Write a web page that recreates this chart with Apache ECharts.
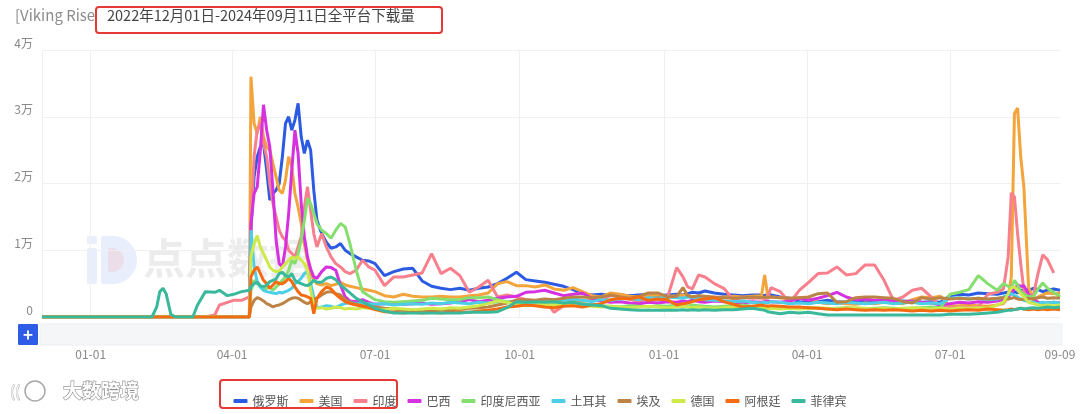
<!DOCTYPE html>
<html>
<head>
<meta charset="utf-8">
<script src="https://cdn.jsdelivr.net/npm/echarts@6/dist/echarts.min.js"></script>
<style>
html,body{margin:0;padding:0;background:#fff;}
#chart{width:1080px;height:414px;}
</style>
</head>
<body>
<div id="chart"></div>
<script>
// ---- data ----
const dates = [
'2022-12-01','2023-02-09','2023-02-12','2023-02-14','2023-02-16','2023-02-18','2023-02-21','2023-02-24','2023-03-07','2023-03-10',
'2023-03-15','2023-03-21','2023-03-24','2023-03-29','2023-04-02','2023-04-07','2023-04-12',
'2023-04-13','2023-04-15','2023-04-17','2023-04-19','2023-04-21','2023-04-23','2023-04-25','2023-04-27','2023-04-29','2023-05-01',
'2023-05-03','2023-05-05','2023-05-07','2023-05-09','2023-05-11','2023-05-13','2023-05-15','2023-05-17','2023-05-19','2023-05-21',
'2023-05-23','2023-05-25','2023-05-28','2023-05-31','2023-06-03','2023-06-06','2023-06-09','2023-06-12','2023-06-15','2023-06-19',
'2023-06-23','2023-06-27',
'2023-07-01','2023-07-07','2023-07-13','2023-07-19','2023-07-25','2023-07-31','2023-08-06','2023-08-12','2023-08-18','2023-08-24',
'2023-08-30','2023-09-05','2023-09-11','2023-09-17','2023-09-23','2023-09-29','2023-10-05','2023-10-11','2023-10-17','2023-10-23',
'2023-10-29','2023-11-04','2023-11-10','2023-11-16','2023-11-22','2023-11-28','2023-12-04','2023-12-10','2023-12-16','2023-12-22',
'2023-12-28','2024-01-03','2024-01-09','2024-01-13','2024-01-16','2024-01-19','2024-01-23','2024-01-27','2024-02-02','2024-02-08',
'2024-02-14','2024-02-20','2024-02-26','2024-03-03','2024-03-05','2024-03-07','2024-03-09','2024-03-15','2024-03-21','2024-03-27',
'2024-04-02','2024-04-08','2024-04-14','2024-04-20','2024-04-26','2024-05-02','2024-05-08','2024-05-14','2024-05-20','2024-05-26',
'2024-06-01','2024-06-07','2024-06-13','2024-06-19','2024-06-25','2024-07-01','2024-07-07','2024-07-13','2024-07-19','2024-07-25',
'2024-07-31','2024-08-04','2024-08-07','2024-08-09','2024-08-11','2024-08-13','2024-08-15','2024-08-17','2024-08-20','2024-08-23',
'2024-08-26','2024-08-29','2024-09-01','2024-09-05','2024-09-09'
];

const russia = [
0,0,0,0,0,0,0,0,0,0, 0,0,0,0,0,0,0,
13000,21000,24000,25500,26000,22000,17500,18500,19000,20000,24000,29000,30000,28000,29500,32000,27000,24500,26500,25000,
19000,14500,12500,11200,10300,10500,11000,10000,9500,9000,8500,8400,
8000,6200,6800,7200,7300,5400,4600,4300,4100,4300,
4000,4300,4500,5000,5800,6700,5600,5400,5200,4900,
4600,4100,3500,3300,3400,3200,3300,3200,3300,3400,
3200,3300,3400,3300,3500,3700,3600,3900,3600,3400,
3300,3200,3300,3300,3200,3400,3300,3000,2800,2300,
2200,2300,2500,2300,2200,2400,2300,2200,2300,2200,
2400,2300,2200,2300,2200,3200,3400,3300,3600,3500,
3400,3600,3700,3500,3800,3600,3900,4200,4000,4300,
4100,3800,4000,4200,4000
];
const usa = [
0,0,0,0,0,0,0,0,0,0, 0,0,0,0,0,0,0,
36000,29000,27500,30000,27000,25500,25000,23000,21000,19000,18500,20500,24000,22500,18500,16500,14000,11000,8500,6500,
5500,5000,4800,5000,4700,4900,5200,4800,4600,4400,4200,4000,
3800,3200,3000,3400,3100,3000,3000,3100,3000,3000,
3200,3300,3600,5000,5300,4700,4700,4500,4800,4200,
4000,4400,3800,3200,3000,3600,3400,3100,3000,3200,
3300,3100,3200,3300,3200,3000,3100,3000,2900,3000,
3100,3000,3100,3200,6300,3100,3000,2900,2800,2900,
2800,2200,2000,2100,2000,1900,2100,2000,2200,2100,
2000,2600,3000,2900,3100,1600,1700,1800,1700,1600,
1800,2000,3000,6000,30500,31300,24000,19500,4500,2500,
3000,3300,3600,3500,3600
];
const india = [
0,0,0,0,0,0,0,0,0,0, 0,300,1800,2200,2500,2500,3000,
14000,24000,28000,29000,26000,24000,20000,17000,15000,13000,12000,11500,10000,9500,9000,10500,12000,16500,19500,16000,
12500,10500,12500,10500,9000,8000,7500,6800,6500,7000,8500,7500,
7000,4700,6000,6000,6300,6600,9500,6500,7300,6200,
3700,4500,5500,3000,3300,3000,2600,2400,2600,700,
1700,2500,2300,2600,2400,3300,3000,2700,2300,2800,
2600,2800,7400,6000,4500,4200,6300,6000,5000,4300,
2600,2900,2800,2900,2700,3000,4400,3800,2100,4000,
5200,6500,6600,7500,6300,6500,7800,7800,5500,2500,
3000,4000,4300,3000,1500,1400,1500,1400,1500,3400,
3700,4200,9000,18600,18000,12500,8000,4000,3000,3200,
6500,9300,8600,6600
];
const brazil = [
0,0,0,0,0,0,0,0,0,0, 0,0,0,0,0,0,0,
14000,18500,19500,25000,31800,28000,25500,19000,11500,8000,7500,10500,15500,22000,28000,24500,17000,12000,9000,7200,
6000,5800,6800,7500,7400,7000,4800,3000,2400,2300,2600,2200,
1900,2000,2100,1900,2000,2100,1900,2000,2100,2300,
2600,2300,2500,2800,3000,3100,3700,3800,4000,3600,
3200,3400,3600,2800,2400,2200,2300,2100,2000,2200,
2100,2300,2200,2400,2300,2500,2300,2200,2400,2300,
2200,2100,2300,2200,2300,2400,2300,2200,2400,2800,
2500,2800,3200,3700,3000,2600,2700,2500,2600,2400,
2300,2400,2200,2100,1800,2000,2200,2100,2300,2200,
2400,2600,3000,3600,4200,4800,4600,4700,3400,2800,
2200,2000,2100,2200,2100
];
const indonesia = [
0,0,0,0,0,0,0,0,0,0, 0,0,0,0,0,0,0,
4000,5500,5000,4500,4000,4300,4500,4000,4500,5000,5500,6000,7000,8500,8000,9500,11500,14500,17800,17000,
15500,14000,13000,12500,11800,13000,14000,13500,11000,7000,3800,3200,
2600,2300,2200,2300,2400,2500,2800,2700,2600,2600,
2900,2900,3000,2600,2300,2200,2000,2100,2200,2100,
2000,2200,2000,1800,1700,1600,1500,1700,1600,1500,
1700,1600,1800,1700,1600,1800,1700,1600,1500,1600,
1700,1800,1600,1400,1500,1400,1300,1500,1400,1300,
1400,1300,1200,1300,1400,1300,1200,1300,1400,1300,
1200,1300,1400,1500,1400,3400,3700,4100,6200,5000,
4000,5000,4600,4300,5500,4800,3800,3400,3100,3000,
4200,5100,4300,3700,3000
];
const turkey = [
0,0,0,0,0,0,0,0,0,0, 0,0,0,0,0,0,0,
13000,7500,5300,4500,4000,3800,3700,3600,3500,3700,3600,3800,4000,4300,5000,5300,5800,6500,6800,5000,
3000,1400,1500,1700,1600,1400,1800,2000,2200,2000,2100,2000,
1900,2000,1800,1900,2000,1900,2100,2000,2200,2100,
2000,2200,2100,2300,2200,2400,2300,2200,2400,2600,
2500,2700,2500,2300,2600,2500,2700,2800,2600,2900,
2800,3000,2900,2800,3000,2900,2800,2600,2500,2400,
2300,2400,2200,2100,2200,2100,2300,2200,2000,2100,
2000,2200,2100,2000,2200,2100,2000,2100,2200,2000,
2100,2200,2000,2100,2000,2800,2900,2700,2800,2600,
2700,3000,3300,3500,3200,3000,2700,2500,2300,2200,
2000,2200,2100,2200,2100
];
const egypt = [
0,0,0,0,0,0,0,0,0,0, 0,0,0,0,0,0,0,
1500,2500,2900,2700,2400,2000,1800,1500,1700,1800,2000,2300,2600,2800,2900,2800,2500,2200,2000,2300,
2700,2800,3300,3700,3800,3500,3300,2600,2200,1900,1700,1600,
1500,1300,1200,1000,900,800,900,1000,1100,1200,
1300,1400,1500,1800,2100,2500,2600,2500,2700,2600,
2800,3000,3000,2900,3000,3300,3000,2800,3100,3600,
3600,3000,3100,4400,3200,3000,3200,3100,3000,2900,
2800,2900,3000,2900,3000,2900,3000,2900,2800,2900,
3000,3500,3600,2200,2300,2900,3000,3000,2900,2800,
2300,2100,2900,2700,2900,2700,2800,2700,2800,2700,
2800,2900,2700,2800,2900,2700,2600,2700,2800,2700,
2900,3000,2800,2900,2800
];
const germany = [
0,0,0,0,0,0,0,0,0,0, 0,0,0,0,0,0,0,
9000,11000,12200,10500,9500,8500,7500,7000,6800,6800,7500,8000,8500,9000,8800,9000,8500,8000,7000,4000,
1800,1300,1400,1200,1300,1500,1400,1200,1300,1200,1400,1300,
1200,1100,1300,1200,1100,1200,1300,1200,1400,1300,
1500,1700,2000,2400,2200,1800,1700,1800,1900,1800,
1700,1800,1700,1600,1500,1600,1500,1400,1500,1600,
1500,1400,1500,1600,1500,1400,1500,1400,1300,1400,
1500,1400,1300,1400,1300,1200,1300,1200,1300,1200,
1300,1400,1300,1200,1300,1400,1300,1200,1300,1200,
1300,1400,1300,1200,1300,1200,1400,1300,1400,1300,
1800,2200,3500,4400,4500,4000,3500,3000,2200,2000,
1800,1700,1800,1700,1800
];
const argentina = [
0,0,0,0,0,0,0,0,0,0, 0,0,0,0,0,0,0,
6000,7000,7500,6500,5500,5000,4300,4800,5300,5000,5000,5300,5800,5300,4500,3800,3300,3200,3000,2800,
500,2800,3800,4500,4200,3400,2800,2300,2000,1800,1600,1400,
1100,800,700,600,700,600,700,600,700,800,
700,900,1000,1200,1500,1600,1800,1700,1500,1400,
1600,1700,1500,1800,2000,2600,2800,2700,3000,2500,
2700,2600,1800,2000,2100,2300,2600,2700,2900,2300,
1900,1500,1600,1800,1700,1600,1700,1600,1500,1500,
1400,1300,1200,1100,1200,1100,1000,1100,1000,1100,
1000,900,1000,900,1000,900,1000,1100,1000,1200,
1100,1000,1100,1200,1100,1200,1300,1200,1100,1200,
1100,1200,1100,1200,1100
];
const philippines = [
0,0,1500,3800,4300,3500,400,0,0,1800, 3800,3700,4000,3200,3400,3800,4000,
4500,5000,5200,4700,4500,4800,5300,5500,5700,6500,6700,6200,6000,6500,5500,5200,5000,4800,4700,5000,
5500,5200,5200,5800,6000,5600,4800,4200,3600,2800,2300,1800,
1300,900,600,600,600,600,600,600,600,600,
700,700,700,800,1400,2300,2200,2300,2200,2300,
2100,2200,1900,1800,1700,1300,1200,1100,1000,1000,
1000,1000,1000,1100,1000,1100,1000,1100,1000,1100,
1100,1200,1300,1100,1000,800,700,500,700,600,
700,500,300,300,300,300,300,300,300,300,
300,300,300,300,300,400,400,400,500,600,
700,900,1000,1000,1100,1200,1300,1200,1300,1400,
1300,1400,1500,1400,1500
];

const seriesNames = ['俄罗斯','美国','印度','巴西','印度尼西亚','土耳其','埃及','德国','阿根廷','菲律宾'];
const seriesValues = [russia, usa, india, brazil, indonesia, turkey, egypt, germany, argentina, philippines];
const colors = ['#2c5be3','#f3a43b','#f87f8c','#d631e0','#84df6f','#4ccfe6','#bb8446','#cfe84a','#f56b12','#3ab89c'];
const tickDates = ['2023-01-01','2023-04-01','2023-07-01','2023-10-01','2024-01-01','2024-04-01','2024-07-01','2024-09-09'];
const startDate = '2022-12-01';
const endDate = '2024-09-09';
const yMax = 40000, yInterval = 10000;

// ---- build daily categories ----
const allDays = [];
for (let t = Date.parse(startDate + 'T00:00:00Z'); t <= Date.parse(endDate + 'T00:00:00Z'); t += 86400000) {
  allDays.push(new Date(t).toISOString().slice(0, 10));
}
const dayIndex = {};
allDays.forEach((d, i) => { dayIndex[d] = i; });
const gridDays = new Set([startDate].concat(tickDates.slice(0, -1)));
const labelDays = new Set(tickDates);

const FONT = '"Noto Sans CJK SC","Noto Sans",sans-serif';

const chart = echarts.init(document.getElementById('chart'), null, {renderer: 'canvas'});
chart.setOption({
  animation: false,
  color: colors,
  textStyle: {fontFamily: FONT},
  grid: {left: 42, right: 20, top: 50, bottom: 97, containLabel: false},
  legend: {
    data: seriesNames,
    left: 'center',
    top: 390,
    icon: 'roundRect',
    itemWidth: 14,
    itemHeight: 4,
    itemGap: 11,
    textStyle: {fontSize: 12, color: '#555', fontFamily: FONT}
  },
  xAxis: {
    type: 'category',
    data: allDays,
    boundaryGap: false,
    axisLine: {show: true, lineStyle: {color: '#eef0f3'}},
    axisTick: {show: false},
    axisLabel: {
      interval: (i, v) => labelDays.has(v),
      formatter: v => v.slice(5),
      color: '#888',
      fontSize: 12,
      margin: 31,
      fontFamily: FONT
    },
    splitLine: {
      show: true,
      interval: (i, v) => gridDays.has(v),
      lineStyle: {color: '#eef0f3', width: 1}
    }
  },
  yAxis: {
    type: 'value',
    min: 0,
    max: yMax,
    interval: yInterval,
    axisLine: {show: false},
    axisTick: {show: false},
    axisLabel: {
      formatter: v => v === 0 ? '0' : (v / 10000) + '万',
      color: '#888',
      fontSize: 12,
      margin: 9,
      verticalAlign: 'bottom',
      lineHeight: 14,
      fontFamily: FONT
    },
    splitLine: {lineStyle: {color: '#eef0f3', width: 1}}
  },
  series: seriesNames.map((name, k) => ({
    name: name,
    type: 'line',
    showSymbol: false,
    symbol: 'none',
    lineStyle: {width: 3, color: colors[k]},
    itemStyle: {color: colors[k]},
    emphasis: {disabled: true},
    data: dates.map((d, i) => [dayIndex[d], seriesValues[k][i]])
  })),
  graphic: {
    elements: [
      // watermark logo
      {type: 'rect', z: -10, shape: {x: 87, y: 236, width: 10, height: 8, r: 2}, style: {fill: 'rgba(70,115,230,0.12)'}},
      {type: 'rect', z: -10, shape: {x: 87, y: 248, width: 10, height: 36, r: 2}, style: {fill: 'rgba(70,115,230,0.12)'}},
      {type: 'rect', z: -10, shape: {x: 101, y: 236, width: 36, height: 48, r: [2, 24, 24, 2]}, style: {fill: 'rgba(70,115,230,0.12)'}},
      {type: 'rect', z: -10, shape: {x: 108, y: 248, width: 16, height: 24, r: [2, 12, 12, 2]}, style: {fill: 'rgba(250,120,110,0.14)'}},
      {type: 'text', z: -10, x: 143, y: 237, style: {text: '点点数据', font: 'bold 42px ' + FONT, fill: 'rgba(150,150,150,0.18)'}},
      // title
      {type: 'text', x: 15, y: 8, style: {text: '[Viking Rise]', font: '15px ' + FONT, fill: '#8c8c8c'}},
      {type: 'rect', shape: {x: 96, y: 7, width: 346, height: 26, r: 3}, style: {fill: '#fff', stroke: '#e53935', lineWidth: 2}, z: 5, silent: true},
      {type: 'text', x: 107, y: 8.5, z: 6, style: {text: '2022年12月01日-2024年09月11日全平台下载量', font: '14.5px ' + FONT, fill: '#444'}},
      // zoom bar + plus button
      {type: 'rect', shape: {x: 40, y: 324, width: 1022, height: 21}, style: {fill: '#f5f6f8', stroke: '#eceef2', lineWidth: 1}},
      {type: 'rect', shape: {x: 18, y: 324, width: 20, height: 21, r: 1}, style: {fill: '#2f5ce6'}},
      {type: 'text', x: 28, y: 334.5, style: {text: '+', font: 'bold 17px ' + FONT, fill: '#fff', align: 'center', verticalAlign: 'middle'}},
      // legend highlight box
      {type: 'rect', shape: {x: 220, y: 380, width: 177, height: 28, r: 3}, style: {fill: 'none', stroke: '#e53935', lineWidth: 2}},
      // bottom-left watermark
      {type: 'circle', shape: {cx: 35, cy: 391, r: 10}, style: {fill: 'none', stroke: '#a8a8a8', lineWidth: 1.5}},
      {type: 'text', x: 10, y: 391, style: {text: '((', font: '15px ' + FONT, fill: '#fff', stroke: '#a8a8a8', lineWidth: 1, verticalAlign: 'middle'}},
      {type: 'text', x: 63, y: 391, style: {text: '大数跨境', font: 'bold 19px ' + FONT, fill: '#fff', stroke: '#8f8f8f', lineWidth: 1.2, verticalAlign: 'middle'}}
    ]
  }
});
</script>
</body>
</html>
